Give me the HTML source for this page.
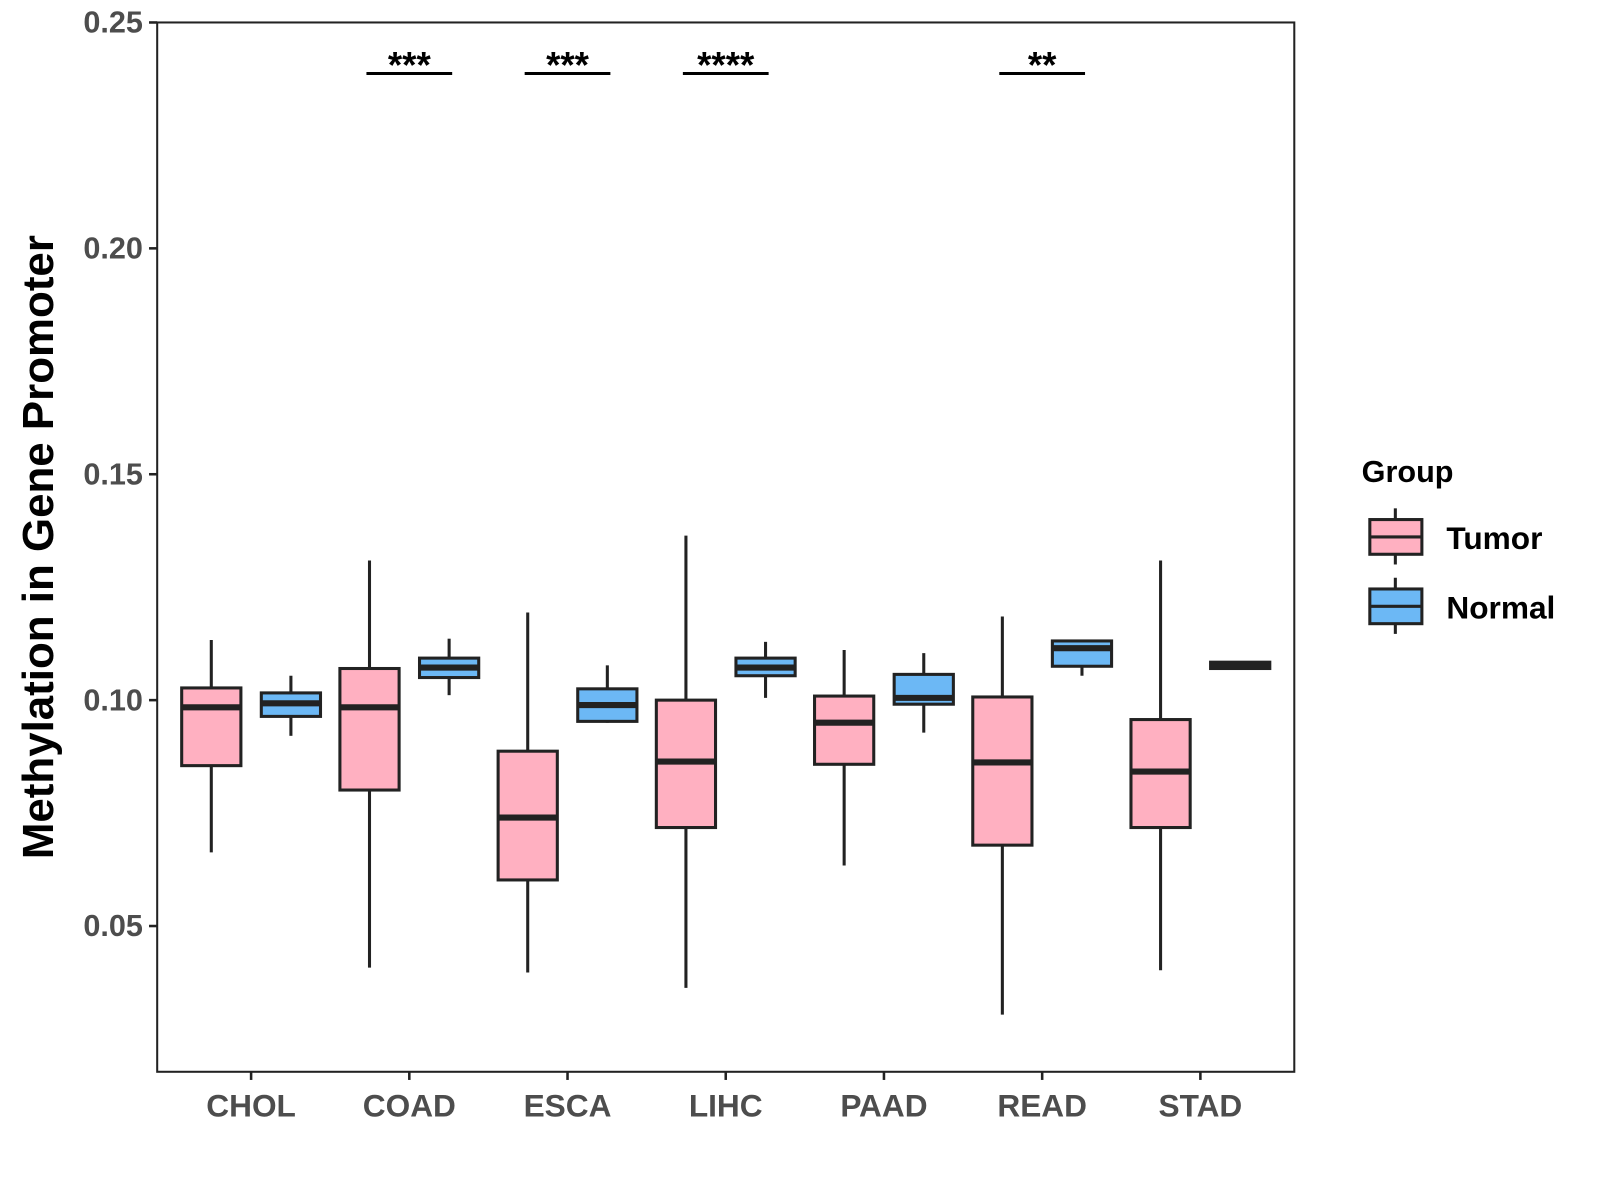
<!DOCTYPE html>
<html><head><meta charset="utf-8"><style>
html,body{margin:0;padding:0;background:#fff}
svg{display:block;font-family:"Liberation Sans",Arial,sans-serif}
</style></head><body>
<svg id="chart" width="1600" height="1200" viewBox="0 0 1567.5 1175.6"></svg>
<script>
const categories = ["CHOL","COAD","ESCA","LIHC","PAAD","READ","STAD"];
// [low, q1, median, q3, high]
const tumorStats = [
  [0.0663,0.0855,0.0984,0.1027,0.1133],
  [0.0408,0.0801,0.0984,0.1070,0.1309],
  [0.0397,0.0602,0.0740,0.0887,0.1194],
  [0.0363,0.0718,0.0864,0.1000,0.1364],
  [0.0634,0.0858,0.0950,0.1009,0.1111],
  [0.0304,0.0679,0.0862,0.1007,0.1185],
  [0.0402,0.0718,0.0842,0.0957,0.1309]
];
const normalStats = [
  [0.0921,0.0964,0.0993,0.1016,0.1054],
  [0.1011,0.1050,0.1072,0.1093,0.1136],
  [0.0950,0.0953,0.0989,0.1025,0.1077],
  [0.1005,0.1054,0.1072,0.1093,0.1129],
  [0.0928,0.0991,0.1005,0.1057,0.1104],
  [0.1054,0.1075,0.1115,0.1131,0.1133],
  [0.1070,0.1070,0.1077,0.1084,0.1084]
];
const sigCategories = ["COAD","ESCA","LIHC","READ"];
const sigLabels = ["***","***","****","**"];
const sigLevel = 0.2387;
const yTicks = [0.05,0.10,0.15,0.20,0.25];
const yTickLabels = ["0.05","0.10","0.15","0.20","0.25"];

const NS="http://www.w3.org/2000/svg";
const svg=document.getElementById("chart");
const L=154,R=1268,T=22,B=1050;
const y=v=>22+(0.25-v)/0.05*221.3;
const x=i=>246+i*155;
function mk(tag,attrs,parent){const e=document.createElementNS(NS,tag);for(const k in attrs)e.setAttribute(k,attrs[k]);(parent||svg).appendChild(e);return e;}

const panel=mk("rect",{x:L,y:T,width:R-L,height:B-T,fill:"#fff",stroke:"#222","stroke-width":2});



yTicks.forEach((t,i)=>{
  const tk=mk("line",{x1:L-8,x2:L,y1:y(t),y2:y(t),stroke:"#222","stroke-width":2.5});
  
  
  const lb=mk("text",{x:L-14,y:y(t)+10,"text-anchor":"end","font-size":30,"font-weight":"bold",fill:"#4d4d4d"});
  lb.textContent=yTickLabels[i];
  
  
});
categories.forEach((c,i)=>{
  const tk=mk("line",{x1:x(i),x2:x(i),y1:B,y2:B+8,stroke:"#222","stroke-width":2.5});
  
  
  const lb=mk("text",{x:x(i),y:B+44,"text-anchor":"middle","font-size":31,"font-weight":"bold",fill:"#4d4d4d"});
  lb.textContent=c;
  
  
});

function box(cx,s,fill,name){
  const g=mk("g",{});
  
  
  const hw=29;
  mk("line",{x1:cx,x2:cx,y1:y(s[4]),y2:y(s[0]),stroke:"#222","stroke-width":3},g);
  mk("rect",{x:cx-hw,y:y(s[3]),width:2*hw,height:Math.max(y(s[1])-y(s[3]),1),fill:fill,stroke:"#222","stroke-width":3},g);
  mk("line",{x1:cx-hw,x2:cx+hw,y1:y(s[2]),y2:y(s[2]),stroke:"#222","stroke-width":6},g);
}
categories.forEach((c,i)=>{
  box(x(i)-39,tumorStats[i],"#FFB0C1","box-tumor-"+c.toLowerCase());
  box(x(i)+39,normalStats[i],"#6CB8F5","box-normal-"+c.toLowerCase());
});
sigCategories.forEach((c,j)=>{
  const i=categories.indexOf(c);
  const ln=mk("line",{x1:x(i)-42,x2:x(i)+42,y1:y(sigLevel),y2:y(sigLevel),stroke:"#000","stroke-width":3});
  
  
  const t=mk("text",{x:x(i),y:y(sigLevel)+4,"text-anchor":"middle","font-size":36,"font-weight":"bold",fill:"#000"});
  t.textContent=sigLabels[j];
  
  
});
</script>
<svg style="position:absolute;left:0;top:0" width="1600" height="1200" viewBox="0 0 1567.5 1175.6">
  <text transform="translate(52,536) rotate(-90)" text-anchor="middle" font-size="43" font-weight="bold" fill="#000">Methylation in Gene Promoter</text>
  <text x="1334" y="472" font-size="30" font-weight="bold" fill="#000">Group</text>
  <g>
    <line x1="1367" x2="1367" y1="498" y2="553" stroke="#222" stroke-width="3"/>
    <rect x="1342" y="509" width="51" height="34" fill="#FFB0C1" stroke="#222" stroke-width="3"/>
    <line x1="1342" x2="1393" y1="526" y2="526" stroke="#222" stroke-width="3"/>
    <text x="1417" y="538" font-size="31" font-weight="bold" fill="#000">Tumor</text>
  </g>
  <g>
    <line x1="1367" x2="1367" y1="566" y2="621" stroke="#222" stroke-width="3"/>
    <rect x="1342" y="577" width="51" height="34" fill="#6CB8F5" stroke="#222" stroke-width="3"/>
    <line x1="1342" x2="1393" y1="594" y2="594" stroke="#222" stroke-width="3"/>
    <text x="1417" y="606" font-size="31" font-weight="bold" fill="#000">Normal</text>
  </g>
</svg>
</body></html>
